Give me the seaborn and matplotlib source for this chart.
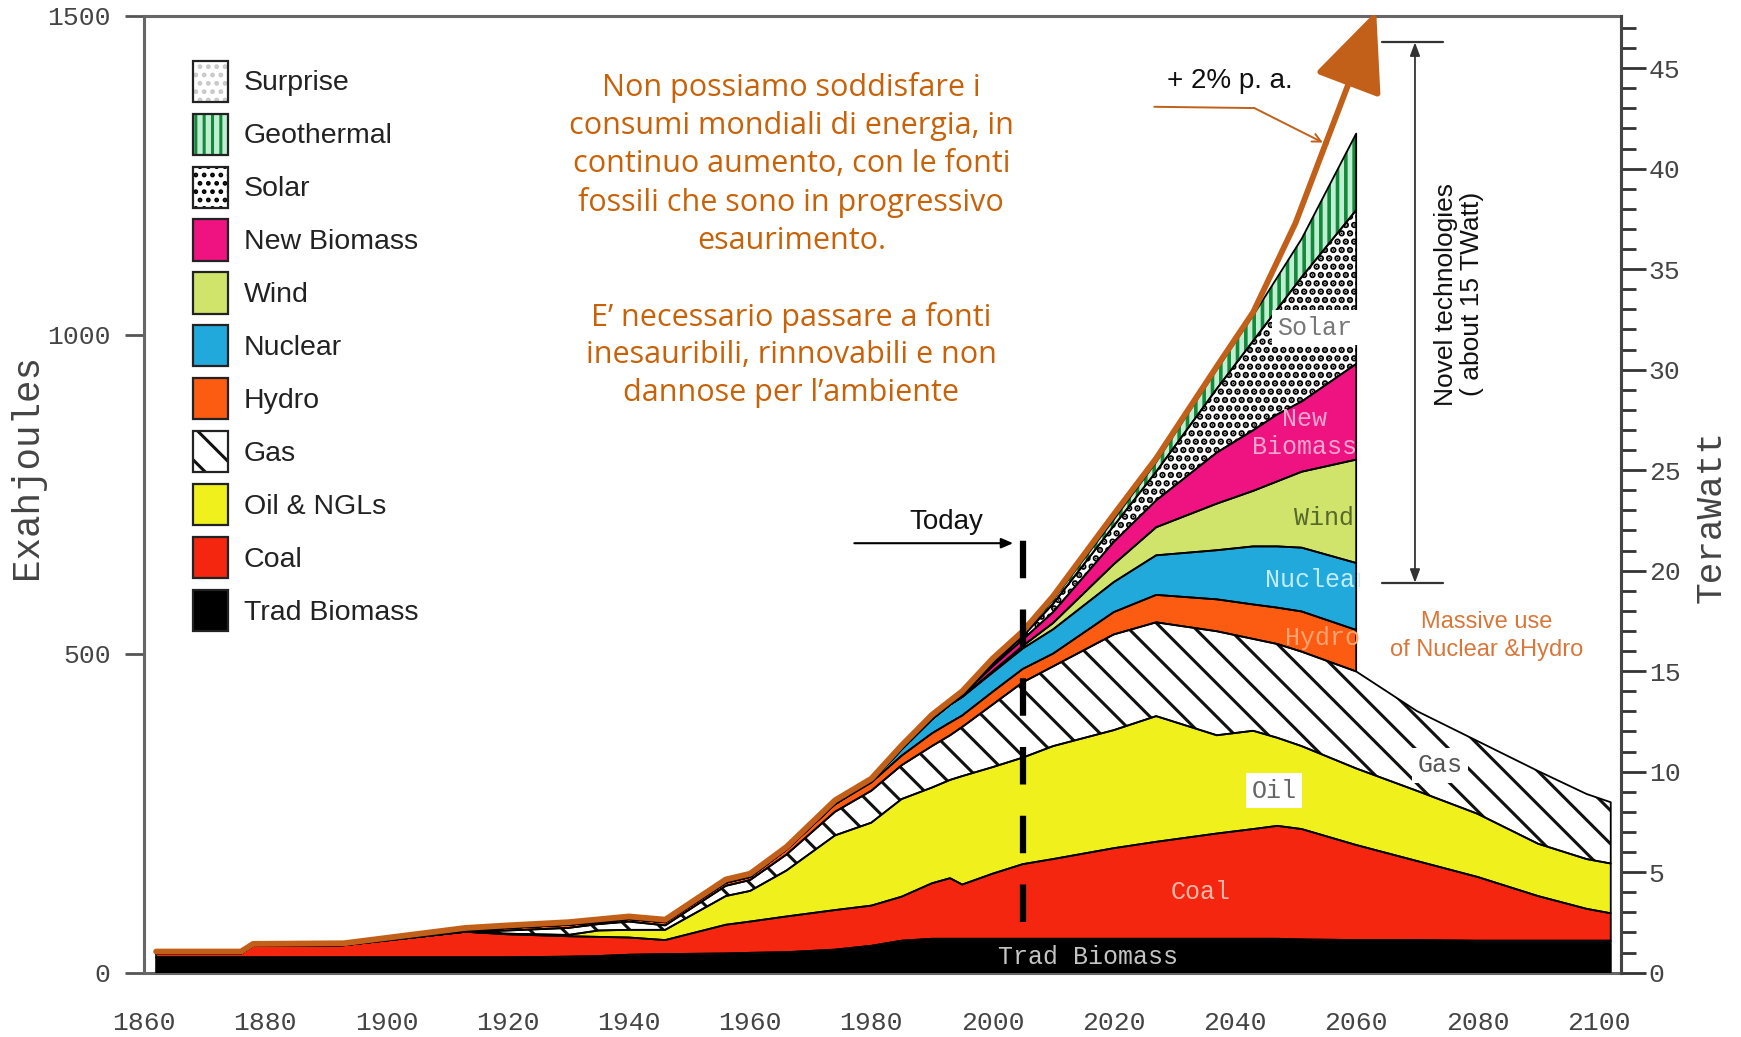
"""
World primary energy mix 1860-2100 with the 2% p.a. growth arrow.
Stacked areas per energy source, annotations in Italian.
"""

import numpy as np
import matplotlib
matplotlib.use("Agg")
import matplotlib.pyplot as plt
import seaborn as sns
from matplotlib.patches import Patch
from matplotlib.transforms import Bbox, TransformedBbox

nan = np.nan

# --- data (Exajoules per layer) -------------------------------------------
years = [1862, 1876, 1878, 1893, 1913, 1920, 1930, 1935, 1940, 1946, 1956, 1960,
         1966, 1974, 1980, 1985, 1990, 1993, 1995, 2000, 2005, 2010, 2020, 2027,
         2037, 2043, 2047, 2051, 2060, 2070, 2080, 2090, 2098, 2102]

trad_biomass = [24, 24, 24, 24, 24, 24, 25, 26, 28, 29, 30, 31, 32, 36, 42, 50, 53,
                53, 53, 53, 53, 53, 53, 53, 53, 53, 53, 52, 51, 51, 50, 50, 50, 50]
coal = [6, 6, 18, 19, 40, 36, 32, 30, 27, 22, 45, 49, 56, 62, 63, 69, 87, 95, 85,
        102, 117, 125, 142, 152, 165, 172, 177, 173, 149, 124, 100, 70, 50, 43]
oil = [0, 0, 0, 0, 0, 1, 2, 10, 12, 16, 45, 48, 72, 117, 130, 153, 150, 154, 170,
       167, 167, 177, 185, 197, 154, 154, 138, 130, 120, 110, 99, 82, 78, 78]
gas = [0, 0, 0, 0, 0, 5, 11, 10, 13, 7, 16, 17, 25, 37, 50, 53, 65, 70, 77, 98,
       118, 125, 150, 147, 163, 144, 147, 148, 152, 125, 114, 114, 102, 96]
hydro = [0, 0, 0, 0, 2, 4, 5, 3, 4, 5, 5, 5, 8, 12, 13, 15, 20, 20, 18, 20, 21,
         20, 35, 43, 50, 54, 57, 63, 65, nan, nan, nan, nan, nan]
nuclear = [0, 0, 0, 0, 0, 0, 0, 0, 0, 0, 0, 0, 0, 0, 2, 10, 22, 28, 29, 30, 32,
           38, 47, 62, 77, 91, 96, 100, 105, nan, nan, nan, nan, nan]
wind = [0, 0, 0, 0, 0, 0, 0, 0, 0, 0, 0, 0, 0, 0, 0, 0, 0, 0, 0, 2, 4, 10, 28,
        44, 73, 87, 102, 119, 162, nan, nan, nan, nan, nan]
new_biomass = [0, 0, 0, 0, 0, 0, 0, 0, 0, 0, 0, 0, 0, 0, 0, 0, 0, 0, 2, 8, 10,
               17, 35, 42, 80, 95, 105, 110, 150, nan, nan, nan, nan, nan]
solar = [0, 0, 0, 0, 0, 0, 0, 0, 0, 0, 0, 0, 0, 0, 0, 0, 0, 0, 0, 3, 5, 13, 25,
         45, 100, 140, 165, 195, 241, nan, nan, nan, nan, nan]
geothermal = [0, 0, 0, 0, 0, 0, 0, 0, 0, 0, 0, 0, 0, 0, 0, 0, 0, 0, 0, 3, 3, 6,
              10, 15, 30, 40, 50, 60, 120, nan, nan, nan, nan, nan]

# total demand growing at +2% p.a. (brown line)
trend_years = [1862, 1876, 1878, 1893, 1913, 1920, 1930, 1940, 1946, 1956, 1960,
               1966, 1974, 1980, 1985, 1990, 1995, 2000, 2005, 2010, 2020, 2027,
               2037, 2043, 2050, 2055]
trend_ej = [33, 33, 45, 46, 70, 74, 79, 88, 83, 146, 155, 197, 270, 304, 356, 404,
            441, 492, 535, 590, 718, 806, 950, 1035, 1175, 1300]
trend_tip = (2063.3, 1507)

today_year = 2005
ej_per_tw = 31.5

italian_text = ("Non possiamo soddisfare i\n"
                "consumi mondiali di energia, in\n"
                "continuo aumento, con le fonti\n"
                "fossili che sono in progressivo\n"
                "esaurimento.\n\n"
                "E\u2019 necessario passare a fonti\n"
                "inesauribili, rinnovabili e non\n"
                "dannose per l\u2019ambiente")

BROWN = "#c2601a"
MONO = ["Liberation Mono", "DejaVu Sans Mono"]

# (legend label, values, facecolor, hatch, hatchcolor, hatch width)
layers = [
    ("Trad Biomass", trad_biomass, "#000000", None, None, 0),
    ("Coal", coal, "#f4260f", None, None, 0),
    ("Oil & NGLs", oil, "#f0f01c", None, None, 0),
    ("Gas", gas, "#ffffff", "\\", "#111111", 2.2),
    ("Hydro", hydro, "#fb5c12", None, None, 0),
    ("Nuclear", nuclear, "#22a9dc", None, None, 0),
    ("Wind", wind, "#d0e36a", None, None, 0),
    ("New Biomass", new_biomass, "#ee1380", None, None, 0),
    ("Solar", solar, "#ffffff", "..", "#000000", 3.3),
    ("Geothermal", geothermal, "#bfeed2", "||", "#138a3a", 2.6),
]

sns.set_style("white")
plt.rcParams["font.family"] = ["Liberation Sans", "DejaVu Sans"]

fig = plt.figure(figsize=(17.41, 10.37), dpi=100)
ax = fig.add_axes([0.0827, 0.0621, 0.8484, 0.9229])

x = np.array(years, dtype=float)
base = np.zeros(len(years))
for name, vals, face, hatch, hcol, hlw in layers:
    top = base + np.array(vals, dtype=float)
    if hatch:
        plt.rcParams["hatch.linewidth"] = hlw
        ax.fill_between(x, base, top, facecolor=face, edgecolor=hcol,
                        hatch=hatch, linewidth=0, zorder=2)
    else:
        ax.fill_between(x, base, top, facecolor=face, linewidth=0, zorder=2)
    ax.fill_between(x, base, top, facecolor="none", edgecolor="black",
                    linewidth=1.3, zorder=3)
    base = top

# brown +2% trend line and its big arrow head
sns.lineplot(x=trend_years, y=trend_ej, color=BROWN, linewidth=4.2, ax=ax,
             zorder=6, legend=False)
ax.annotate("", xy=trend_tip, xytext=(trend_years[-1], trend_ej[-1]),
            annotation_clip=False,
            arrowprops=dict(arrowstyle="-|>,head_length=1.25,head_width=0.55",
                            color=BROWN, lw=4.2, mutation_scale=40,
                            shrinkA=0, shrinkB=0), zorder=7)

# "+ 2% p. a." pointer
ax.text(2039.1, 1397, "+ 2% p. a.", fontsize=20, ha="center", va="center",
        color="#111111")
ax.plot([2026.7, 2043.2], [1357, 1355], color=BROWN, lw=1.4, zorder=6)
ax.annotate("", xy=(2054.5, 1301), xytext=(2043.2, 1355),
            arrowprops=dict(arrowstyle="->,head_length=0.6,head_width=0.3",
                            color=BROWN, lw=1.4, shrinkA=0, shrinkB=0), zorder=6)

# Today marker
ax.plot([today_year, today_year], [80, 706], color="black", lw=4.5,
        dashes=(6, 5), zorder=8)
ax.annotate("", xy=(2003.4, 673), xytext=(1977.2, 673),
            arrowprops=dict(arrowstyle="-|>,head_length=0.7,head_width=0.3",
                            color="black", lw=1.5, shrinkA=0, shrinkB=0))
ax.text(1992.4, 706, "Today", fontsize=20, ha="center", va="center",
        color="#111111")

# novel technologies span
ax.annotate("", xy=(2069.7, 1458), xytext=(2069.7, 611),
            arrowprops=dict(arrowstyle="<|-|>,head_length=0.8,head_width=0.3",
                            color="#333333", lw=1.3, shrinkA=0, shrinkB=0))
for yv in (1458, 611):
    ax.plot([2064.3, 2074.3], [yv, yv], color="#333333", lw=1.6)
ax.text(2077.0, 1063, "Novel technologies\n( about 15 TWatt)", rotation=90,
        fontsize=19, ha="center", va="center", color="#111111",
        multialignment="center", linespacing=1.1)
ax.text(2081.6, 527, "Massive use\nof Nuclear &Hydro", fontsize=17,
        ha="center", va="center", color="#d9773a", linespacing=1.35)

ax.text(1966.8, 1148, italian_text, fontsize=22, ha="center", va="center",
        multialignment="center", color="#c86208", linespacing=1.34,
        family=["Open Sans", "DejaVu Sans"])

# labels inside the areas
clip_box = TransformedBbox(Bbox([[1860, 0], [2060.6, 1500]]), ax.transData)


def area_label(xv, yv, s, color, ha="center", box=False, clip=False):
    t = ax.text(xv, yv, s, fontsize=18, ha=ha, va="center", color=color,
                family=MONO, zorder=9, multialignment="center",
                linespacing=1.2)
    if box:
        t.set_bbox(dict(facecolor="white", edgecolor="none", pad=4))
    if clip:
        t.set_clip_on(True)
        t.set_clip_box(clip_box)
        if t.get_bbox_patch() is not None:
            t.get_bbox_patch().set_clip_on(True)
            t.get_bbox_patch().set_clip_box(clip_box)
    return t


area_label(2047.0, 1011, "Solar", "#777777", ha="left", box=True, clip=True)
area_label(2051.5, 846, "New\nBiomass", "#f7a6cf")
area_label(2054.7, 713, "Wind", "#56682a")
area_label(2045.0, 616, "Nuclear", "#c2ecfa", ha="left", clip=True)
area_label(2048.3, 524, "Hydro", "#ffa472", ha="left", clip=True)
area_label(2073.8, 325, "Gas", "#555555", box=True)
area_label(2046.5, 285, "Oil", "#666666", box=True)
area_label(2034.4, 127, "Coal", "#ffb8a8")
area_label(2015.7, 24, "Trad Biomass", "#c4c4c4")

# legend
legend_specs = [
    ("Surprise", "#ffffff", "..", "#c8c8c8", 1.5),
    ("Geothermal", "#bfeed2", "||", "#138a3a", 2.6),
    ("Solar", "#ffffff", "..", "#000000", 3.3),
    ("New Biomass", "#ee1380", None, None, 0),
    ("Wind", "#d0e36a", None, None, 0),
    ("Nuclear", "#22a9dc", None, None, 0),
    ("Hydro", "#fb5c12", None, None, 0),
    ("Gas", "#ffffff", "\\", "#111111", 2.2),
    ("Oil & NGLs", "#f0f01c", None, None, 0),
    ("Coal", "#f4260f", None, None, 0),
    ("Trad Biomass", "#000000", None, None, 0),
]
handles, labels = [], []
for name, face, hatch, hcol, hlw in legend_specs:
    if hatch:
        plt.rcParams["hatch.linewidth"] = hlw
        fill = Patch(facecolor=face, edgecolor=hcol, hatch=hatch, linewidth=0)
    else:
        fill = Patch(facecolor=face, linewidth=0)
    frame = Patch(facecolor="none", edgecolor="#222222", linewidth=1.6)
    handles.append((fill, frame))
    labels.append(name)
leg = ax.legend(handles, labels, loc="upper left", bbox_to_anchor=(0.033, 0.953),
                frameon=False, fontsize=20.5, handlelength=1.25,
                handleheight=1.84, labelspacing=0.42, handletextpad=0.55,
                borderpad=0, borderaxespad=0)
for txt in leg.get_texts():
    txt.set_color("#222222")

# axes
ax.set_xlim(1860, 2103.7)
ax.set_ylim(0, 1500)
ax.set_xticks(range(1860, 2101, 20))
ax.set_yticks([0, 500, 1000, 1500])
ax.tick_params(axis="both", direction="out", length=14, width=2,
               color="#555555", labelcolor="#444444", labelsize=19)
ax.tick_params(axis="x", pad=14)
ax.tick_params(axis="y", pad=10)
for lab in ax.get_xticklabels() + ax.get_yticklabels():
    lab.set_family(MONO)
ax.set_ylabel("Exahjoules", fontsize=27, family=MONO, color="#444444")
ax.yaxis.set_label_coords(-0.067, 0.529)
for side in ["left", "bottom", "top", "right"]:
    ax.spines[side].set_visible(True)
    ax.spines[side].set_color("#666666")
    ax.spines[side].set_linewidth(2.2)

ax2 = ax.twinx()
ax2.set_ylim(0, 1500 / ej_per_tw)
ax2.set_yticks(range(0, 46, 5))
ax2.set_yticks(range(0, 48), minor=True)
ax2.tick_params(axis="y", which="major", direction="out", length=18, width=2,
                color="#333333", labelcolor="#444444", labelsize=19, pad=2)
ax2.tick_params(axis="y", which="minor", direction="out", length=11, width=2,
                color="#333333")
for lab in ax2.get_yticklabels():
    lab.set_family(MONO)
ax2.set_ylabel("TeraWatt", fontsize=26, family=MONO, color="#444444",
               rotation=90)
ax2.yaxis.set_label_coords(1.049, 0.477)
for side in ["left", "bottom", "top", "right"]:
    ax2.spines[side].set_visible(False)
ax2.spines["right"].set_visible(True)
ax2.spines["right"].set_color("#444444")
ax2.spines["right"].set_linewidth(2.2)

fig.savefig("out.png", dpi=100)
